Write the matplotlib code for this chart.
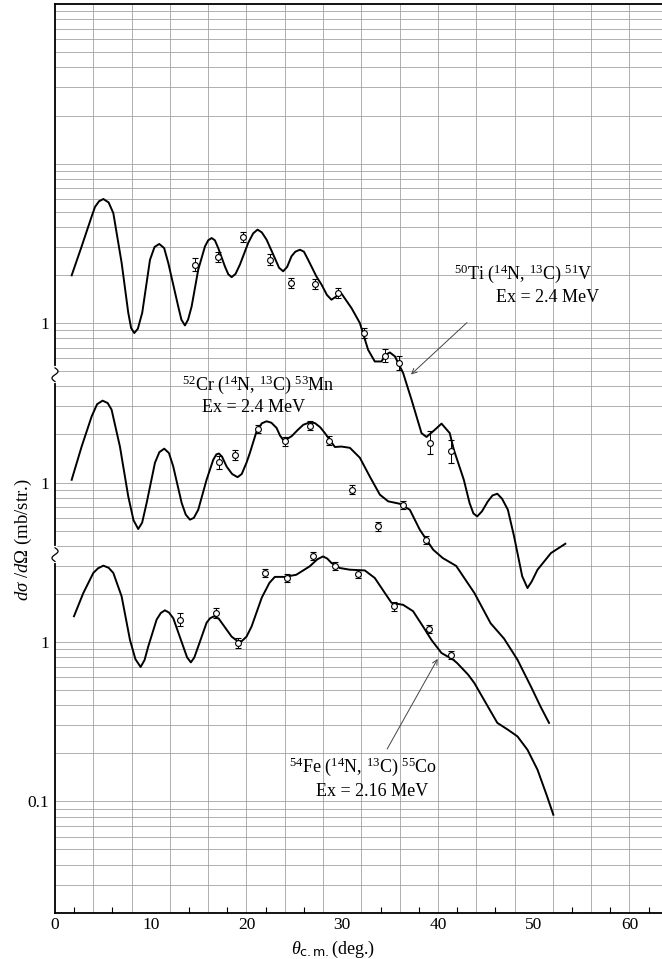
import numpy as np
import matplotlib.pyplot as plt

plt.rcParams["font.family"] = ["Liberation Serif", "DejaVu Serif"]
plt.rcParams["mathtext.fontset"] = "custom"
plt.rcParams["mathtext.rm"] = "Liberation Serif"
plt.rcParams["mathtext.it"] = "Liberation Serif:italic"
plt.rcParams["mathtext.bf"] = "Liberation Serif:bold"
plt.rcParams["mathtext.sf"] = "DejaVu Sans"

# 50Ti(14N,13C)51V, Ex = 2.4 MeV  -- DWBA curve and measured points (mb/str)
ti_curve_x = [1.74, 2.78, 3.83, 4.18, 4.6, 5.05, 5.6, 6.09, 6.96, 7.65, 7.95, 8.28, 8.65,
              9.11, 9.92, 10.4, 10.89, 11.4, 11.83, 12.87, 13.2, 13.57, 13.9, 14.27, 14.96,
              15.66, 16.0, 16.36, 16.7, 17.05, 17.75, 18.1, 18.45, 18.85, 19.31, 20.18,
              20.7, 21.16, 21.6, 22.1, 22.9, 23.4, 23.83, 24.25, 24.7, 25.1, 25.58, 26.0,
              26.44, 27.3, 27.84, 28.4, 28.87, 29.4, 29.92, 30.97, 31.84, 32.7, 33.4, 34.1,
              34.5, 34.97, 35.5, 36.36, 37.24, 38.28, 38.8, 39.67, 40.37, 41.23, 41.65,
              42.7, 43.3, 43.7, 44.1, 44.6, 45.2, 45.7, 46.2, 46.7, 47.3, 47.95, 48.8,
              49.35, 49.8, 50.4, 51.8, 53.3]
ti_curve_y = [1.99, 3.02, 4.66, 5.35, 5.8, 5.99, 5.7, 4.89, 2.38, 1.16, 0.93, 0.865, 0.92,
              1.16, 2.49, 3.0, 3.13, 2.95, 2.38, 1.27, 1.05, 0.966, 1.05, 1.27, 2.16,
              3.02, 3.3, 3.41, 3.3, 2.95, 2.26, 2.02, 1.94, 2.03, 2.32, 3.18,
              3.65, 3.85, 3.7, 3.33, 2.6, 2.22, 2.11, 2.25, 2.62, 2.8, 2.88, 2.8,
              2.49, 1.96, 1.74, 1.5, 1.40, 1.47, 1.53, 1.24, 1.0, 0.68, 0.574, 0.574,
              0.63, 0.654, 0.618, 0.486, 0.33, 0.204, 0.193, 0.214, 0.234, 0.204, 0.161,
              0.104, 0.0744, 0.064, 0.0613, 0.066, 0.076, 0.083, 0.085, 0.079, 0.0675, 0.0459, 0.0258,
              0.0218, 0.024, 0.0284, 0.0361, 0.0413]
ti_data_x = [14.61, 16.98, 19.68, 22.44, 24.63, 27.14, 29.57, 32.25, 34.45, 35.95, 39.15, 41.4]
ti_data_y = [2.32, 2.59, 3.46, 2.49, 1.78, 1.76, 1.54, 0.865, 0.624, 0.561, 0.177, 0.157]
ti_data_err = [0.10, 0.08, 0.08, 0.08, 0.07, 0.08, 0.08, 0.08, 0.10, 0.10, 0.18, 0.18]

# 52Cr(14N,13C)53Mn, Ex = 2.4 MeV
cr_curve_x = [1.74, 2.78, 3.83, 4.4, 4.97, 5.5, 5.91, 6.78, 7.65, 8.2, 8.69, 9.1, 9.57,
              10.44, 10.9, 11.41, 11.9, 12.35, 13.23, 13.65, 14.09, 14.5, 14.96, 15.83,
              16.53, 16.85, 17.12, 17.45, 17.92, 18.5, 19.07, 19.5, 20.0, 20.35, 21.06,
              21.6, 22.1, 22.6, 23.14, 23.5, 23.83, 24.2, 24.71, 25.3, 25.93, 26.5, 27.14,
              27.7, 28.19, 29.23, 29.92, 30.8, 31.84, 32.88, 33.93, 34.8, 36.0, 37.06,
              38.1, 39.5, 40.5, 41.9, 43.8, 45.5, 46.9, 48.3, 49.7, 50.7, 51.6]
cr_curve_y = [1.04, 1.68, 2.60, 3.1, 3.26, 3.15, 2.86, 1.68, 0.818, 0.58, 0.511, 0.56, 0.744,
              1.33, 1.55, 1.63, 1.53, 1.26, 0.744, 0.63, 0.585, 0.6, 0.675, 1.04,
              1.39, 1.5, 1.52, 1.45, 1.26, 1.13, 1.08, 1.13, 1.33, 1.53, 2.1,
              2.35, 2.42, 2.37, 2.20, 1.97, 1.85, 1.87, 1.95, 2.12, 2.30, 2.37, 2.36,
              2.22, 2.04, 1.67, 1.68, 1.65, 1.43, 1.09, 0.839, 0.762, 0.736, 0.675,
              0.506, 0.379, 0.336, 0.30, 0.203, 0.131, 0.105, 0.0775, 0.0527, 0.0395, 0.0311]
cr_data_x = [17.15, 18.79, 21.22, 24.0, 26.62, 28.64, 31.03, 33.75, 36.36, 38.73]
cr_data_y = [1.34, 1.49, 2.16, 1.81, 2.27, 1.83, 0.901, 0.531, 0.726, 0.438]
cr_data_err = [0.10, 0.07, 0.06, 0.07, 0.07, 0.07, 0.07, 0.07, 0.06, 0.06]

# 54Fe(14N,13C)55Co, Ex = 2.16 MeV
fe_curve_x = [1.98, 2.96, 4.0, 4.5, 5.05, 5.6, 6.09, 6.96, 7.83, 8.4, 8.94, 9.35, 9.74,
              10.61, 11.05, 11.48, 11.9, 12.35, 13.39, 13.8, 14.19, 14.55, 14.96, 15.83,
              16.2, 16.63, 17.1, 17.57, 18.45, 19.0, 19.49, 20.0, 20.53, 21.6, 22.4, 22.96,
              24.0, 25.2, 26.6, 27.4, 28.0, 28.45, 28.87, 29.75, 30.79, 32.36, 33.4, 34.45,
              35.15, 36.36, 37.4, 38.44, 39.32, 40.37, 41.58, 42.0, 43.15, 43.8, 45.2,
              46.2, 47.3, 48.3, 49.35, 50.4, 51.4, 52.05]
fe_curve_y = [1.45, 2.03, 2.71, 2.9, 3.01, 2.92, 2.71, 1.93, 1.03, 0.78, 0.697, 0.77, 0.938,
              1.38, 1.52, 1.58, 1.53, 1.41, 0.938, 0.8, 0.745, 0.8, 0.938, 1.32,
              1.41, 1.45, 1.4, 1.28, 1.08, 1.02, 1.01, 1.08, 1.25, 1.9, 2.35, 2.56,
              2.56, 2.64, 2.98, 3.3, 3.44, 3.33, 3.13, 2.91, 2.84, 2.81, 2.52, 2.03,
              1.76, 1.71, 1.56, 1.25, 1.03, 0.853, 0.775, 0.738, 0.624, 0.553, 0.395,
              0.311, 0.282, 0.256, 0.211, 0.158, 0.1076, 0.0826]
fe_data_x = [13.05, 16.77, 19.13, 21.92, 24.18, 26.9, 29.23, 31.66, 35.39, 39.08, 41.34]
fe_data_y = [1.38, 1.52, 0.986, 2.71, 2.52, 3.44, 2.98, 2.68, 1.67, 1.21, 0.833]
fe_data_err = [0.10, 0.08, 0.07, 0.06, 0.06, 0.06, 0.06, 0.06, 0.06, 0.06, 0.06]

# the three reactions share one log paper, each shifted by one decade
TI_SHIFT, CR_SHIFT, FE_SHIFT = 100.0, 10.0, 1.0
YMIN, YMAX = 0.02, 10000.0


def draw_points(ax, x, y, err, shift):
    y = np.array(y) * shift
    e = np.array(err)
    ax.errorbar(x, y, yerr=[y - y / (1 + e), y * e], fmt="o", ms=4.2,
                mfc="white", mec="black", mew=0.8, ecolor="black",
                elinewidth=0.7, capsize=2.2, capthick=0.7, zorder=4)


def axis_break(ax, yv):
    ya = (np.log10(yv) - np.log10(YMIN)) / (np.log10(YMAX) - np.log10(YMIN))
    ax.plot([0, 0], [ya - 0.007, ya + 0.007], color="white", lw=3,
            transform=ax.transAxes, clip_on=False, zorder=6)
    t = np.linspace(-1, 1, 40)
    ax.plot(0.005 * np.sin(np.pi * t), ya + 0.0075 * t, color="black", lw=0.9,
            transform=ax.transAxes, clip_on=False, zorder=7)


fig = plt.figure(figsize=(6.62, 9.59), dpi=100)
ax = fig.add_axes([0.0831, 0.048, 0.9169, 0.9478])
ax.set_yscale("log")
ax.set_xlim(0, 63.4)
ax.set_ylim(YMIN, YMAX)

# graph paper
for k in range(-2, 4):
    for m in range(1, 10):
        v = m * 10.0 ** k
        if YMIN < v < YMAX:
            ax.axhline(v, color="#9a9a9a", lw=0.55, zorder=0)
for g in np.arange(4, 64, 4):
    ax.axvline(g, color="#9a9a9a", lw=0.55, zorder=0)

for cx, cy, shift in [(ti_curve_x, ti_curve_y, TI_SHIFT),
                      (cr_curve_x, cr_curve_y, CR_SHIFT),
                      (fe_curve_x, fe_curve_y, FE_SHIFT)]:
    ax.plot(cx, np.array(cy) * shift, color="black", lw=1.4,
            solid_joinstyle="round", zorder=3)

draw_points(ax, ti_data_x, ti_data_y, ti_data_err, TI_SHIFT)
draw_points(ax, cr_data_x, cr_data_y, cr_data_err, CR_SHIFT)
draw_points(ax, fe_data_x, fe_data_y, fe_data_err, FE_SHIFT)

# reaction labels
fs = 13
ax.text(48.96, 205, r"$^{50}$Ti ($^{14}$N, $^{13}$C) $^{51}$V", fontsize=fs,
        ha="center", va="center", zorder=5)
ax.text(51.4, 144, "Ex = 2.4 MeV", fontsize=fs, ha="center", va="center", zorder=5)
ax.text(21.25, 41.0, r"$^{52}$Cr ($^{14}$N, $^{13}$C) $^{53}$Mn", fontsize=fs,
        ha="center", va="center", zorder=5)
ax.text(20.77, 29.4, "Ex = 2.4 MeV", fontsize=fs, ha="center", va="center", zorder=5)
ax.text(32.15, 0.165, r"$^{54}$Fe ($^{14}$N, $^{13}$C) $^{55}$Co", fontsize=fs,
        ha="center", va="center", zorder=5)
ax.text(33.14, 0.115, "Ex = 2.16 MeV", fontsize=fs, ha="center", va="center", zorder=5)

arrow = dict(arrowstyle="->", color="#444444", lw=0.7, mutation_scale=9)
ax.annotate("", xy=(36.97, 46.3), xytext=(43.24, 103.4), arrowprops=arrow, zorder=5)
ax.annotate("", xy=(40.11, 0.812), xytext=(34.55, 0.206), arrowprops=arrow, zorder=5)

# axes
ax.set_xticks(range(0, 61, 10))
ax.set_xticks(np.arange(2, 63, 4), minor=True)
ax.tick_params(axis="x", which="major", length=0, labelsize=12.5, pad=3)
ax.tick_params(axis="x", which="minor", direction="in", length=4, width=0.8)
ax.set_yticks([0.1, 1, 10, 100])
ax.set_yticklabels(["0.1", "1", "1", "1"])
ax.yaxis.set_minor_locator(plt.NullLocator())
ax.tick_params(axis="y", length=0, labelsize=12.5, pad=4)

ax.spines["right"].set_visible(False)
ax.spines["top"].set_linewidth(1.3)
ax.spines["left"].set_linewidth(1.3)
ax.spines["bottom"].set_linewidth(1.3)

axis_break(ax, 47.4)
axis_break(ax, 3.53)

fig.text(0.035, 0.437, r"$d\sigma\ /d\Omega$ (mb/str.)", rotation=90,
         fontsize=13.5, ha="center", va="center")
ax.text(29.0, -0.04, r"$\theta_{\mathsf{c.m.}}$(deg.)", fontsize=13,
        ha="center", va="center", transform=ax.get_xaxis_transform())

plt.savefig("out.png", dpi=100)
plt.close()
